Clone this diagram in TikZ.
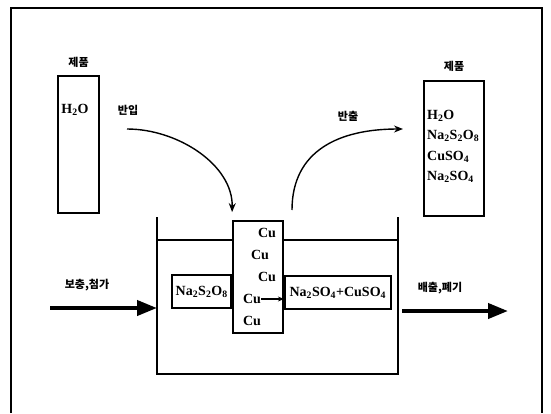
\documentclass[tikz,border=0pt]{standalone}
\usepackage{fontspec}
\setmainfont{Liberation Serif}
\newfontfamily\krfont{Noto Sans CJK KR}
\usetikzlibrary{positioning, arrows.meta, calc}

\newcommand{\ch}[1]{\textsubscript{#1}}

\begin{document}
\begin{tikzpicture}[
  x=1pt, y=-1pt,
  font=\fontsize{14}{16}\selectfont\bfseries,
  box/.style={draw, line width=1.8pt, inner sep=0pt},
  kr/.style={font=\krfont\fontsize{11}{13}\selectfont\bfseries, inner sep=0pt},
  chem/.style={inner sep=0pt},
  wall/.style={line width=1.8pt},
  bigarrow/.style={-{Triangle[length=20pt,width=15pt]}, line width=4pt},
  curvarrow/.style={-{Stealth[length=9pt,width=7pt]}, line width=1.4pt},
  smallarrow/.style={-{Stealth[length=6pt,width=5pt]}, line width=1.3pt},
]
  \useasboundingbox (0,0) rectangle (551,413);

  % Outer frame (open at the bottom)
  \draw[line width=2.2pt] (11,413) -- (11,8) -- (542,8) -- (542,413);

  % Product containers
  \node[box, minimum width=41pt, minimum height=137pt] (prodIn) at (78.5,144.5) {};
  \node[kr, above=7pt of prodIn] (prodInLbl) {제품};
  \node[chem] (inH2O) at (75,110) {H\ch{2}O};

  \node[box, minimum width=60pt, minimum height=135pt] (prodOut) at (454,148.5) {};
  \node[kr, above=8pt of prodOut] (prodOutLbl) {제품};
  \node[chem, anchor=west] (outH2O) at (427,116) {H\ch{2}O};
  \node[chem, anchor=west] (outPer) at (427,136) {Na\ch{2}S\ch{2}O\ch{8}};
  \node[chem, anchor=west] (outCu)  at (427,157) {CuSO\ch{4}};
  \node[chem, anchor=west] (outNa)  at (427,177) {Na\ch{2}SO\ch{4}};

  % Tank
  \coordinate (tankTL) at (157,217);
  \coordinate (tankBL) at (157,374);
  \coordinate (tankBR) at (398,374);
  \coordinate (tankTR) at (398,217);
  \draw[wall] (tankTL) -- (tankBL) -- (tankBR) -- (tankTR);

  % Copper electrode and solutions
  \node[box, fill=white, minimum width=50pt, minimum height=112pt] (cu) at (258,277) {};
  \draw[wall] (tankTL |- 0,240) -- (cu.west |- 0,240);
  \draw[wall] (cu.east |- 0,240) -- (tankTR |- 0,240);
  \node[box, minimum width=59pt, minimum height=33pt,
        anchor=east] (persul) at (cu.west |- 0,291.5) {Na\ch{2}S\ch{2}O\ch{8}};
  \node[box, minimum width=106pt, minimum height=33pt,
        anchor=west] (mixsol) at (cu.east |- 0,292.5) {Na\ch{2}SO\ch{4}+CuSO\ch{4}};

  \node[chem] (cu1) at (267,233) {Cu};
  \node[chem] (cu2) at (260,255) {Cu};
  \node[chem] (cu3) at (267,277) {Cu};
  \node[chem] (cu4) at (252,299) {Cu};
  \node[chem] (cu5) at (252,321) {Cu};
  \draw[smallarrow] (cu4.east) -- (cu.east |- cu4.east);

  % Carry in / carry out
  \node[kr] (inLbl)  at (128,110) {반입};
  \node[kr] (outLbl) at (348,116) {반출};
  \coordinate (inStart) at (127,129);
  \coordinate (outStart) at (292,210);
  \coordinate (outEnd) at (403,129);
  \draw[curvarrow] (inStart) .. controls (178,129) and (233,165) .. ($(cu.north west)+(0,-8)$);
  \draw[curvarrow] (outStart) .. controls (292,150) and (340,129) .. (outEnd);

  % Supply and discharge
  \node[kr] (addLbl) at (87,285) {보충,첨가};
  \node[kr] (wasteLbl) at (440,288) {배출,폐기};
  \coordinate (addStart) at (50,308);
  \coordinate (wasteEnd) at (508,311);
  \draw[bigarrow] (addStart) -- (tankTL |- addStart);
  \draw[bigarrow] (tankTR |- wasteEnd) ++(4,0) -- (wasteEnd);
\end{tikzpicture}
\end{document}
